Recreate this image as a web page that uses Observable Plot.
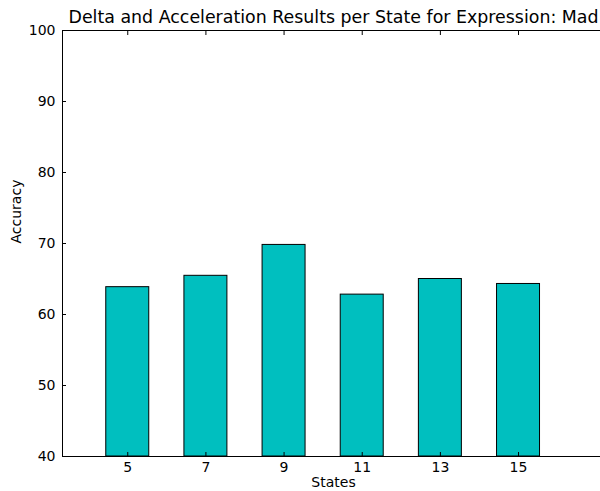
<!DOCTYPE html>
<html>
<head>
<meta charset="utf-8">
<script src="https://cdn.jsdelivr.net/npm/d3@7"></script>
<script src="https://cdn.jsdelivr.net/npm/@observablehq/plot@0.6"></script>
<style>
  html, body { margin: 0; padding: 0; background: #fff; }
  svg { display: block; }
</style>
</head>
<body>
<div id="chart"></div>
<script>
const states = [5, 7, 9, 11, 13, 15];
const accuracy = [63.85, 65.45, 69.8, 62.8, 65.0, 64.3];
const yTicks = [40, 50, 60, 70, 80, 90, 100];
const titleText = "Delta and Acceleration Results per State for Expression: Mad";
const barWidth = 1.1;

const data = states.map((s, i) => ({state: s, acc: accuracy[i]}));
const noLabel = () => "";

const chart = Plot.plot({
  width: 600,
  height: 491,
  marginLeft: 62,
  marginRight: -4,
  marginTop: 30,
  marginBottom: 35,
  style: {fontFamily: "DejaVu Sans", fontSize: "14px", color: "black", background: "white"},
  x: {type: "linear", domain: [3.33, 17.2]},
  y: {domain: [40, 100]},
  marks: [
    Plot.rectY(data, {
      x1: d => d.state - barWidth / 2,
      x2: d => d.state + barWidth / 2,
      y1: 40,
      y2: "acc",
      fill: "#00bfbf",
      stroke: "black",
      strokeWidth: 1
    }),
    Plot.axisY({anchor: "left", ticks: yTicks, tickSize: -4, tickPadding: 11, label: null, stroke: "black", fill: "black", fontSize: 14}),
    Plot.axisY({anchor: "right", ticks: yTicks, tickSize: -4, tickFormat: noLabel, label: null, stroke: "black"}),
    Plot.axisX({anchor: "bottom", ticks: states, tickSize: -4, tickPadding: 10, label: null, stroke: "black", fill: "black", fontSize: 14}),
    Plot.axisX({anchor: "top", ticks: states, tickSize: -4, tickFormat: noLabel, label: null, stroke: "black"}),
    Plot.frame({stroke: "black", strokeWidth: 1}),
    Plot.text([titleText], {text: d => d, frameAnchor: "top", dy: -20, fontSize: 17.4, fill: "black"}),
    Plot.text(["States"], {text: d => d, frameAnchor: "bottom", dy: 30, fontSize: 14, fill: "black"}),
    Plot.text(["Accuracy"], {text: d => d, frameAnchor: "left", dx: -46, rotate: -90, fontSize: 14, fill: "black"})
  ]
});
document.getElementById("chart").appendChild(chart);
</script>
</body>
</html>
